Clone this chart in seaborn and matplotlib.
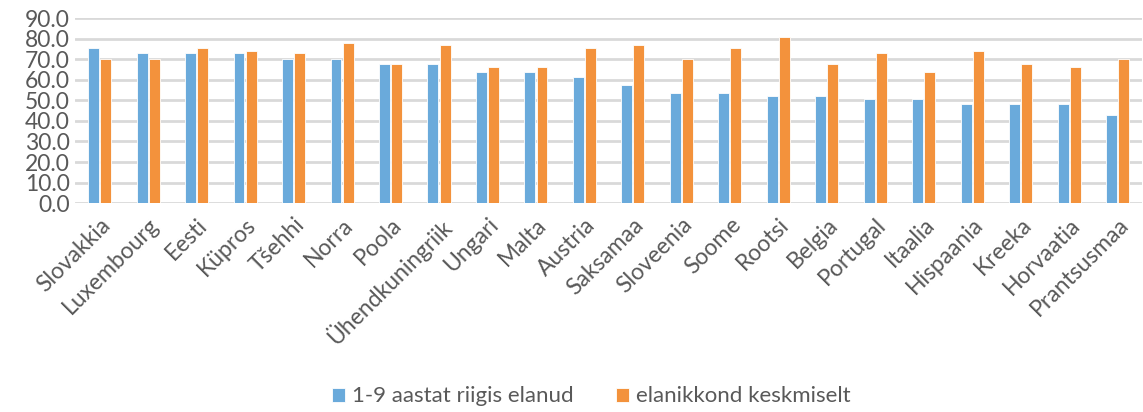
import matplotlib
matplotlib.use("Agg")
import matplotlib.pyplot as plt
import seaborn as sns
import pandas as pd

countries = ["Slovakkia", "Luxembourg", "Eesti", "Küpros", "Tšehhi", "Norra", "Poola",
             "Ühendkuningriik", "Ungari", "Malta", "Austria", "Saksamaa", "Sloveenia",
             "Soome", "Rootsi", "Belgia", "Portugal", "Itaalia", "Hispaania", "Kreeka",
             "Horvaatia", "Prantsusmaa"]
recent_residents = [75.5, 73.0, 73.0, 73.0, 70.3, 70.3, 67.7, 67.7, 63.8, 63.8, 61.2, 57.3,
                    53.4, 53.4, 52.1, 52.1, 50.8, 50.8, 48.2, 48.2, 48.2, 43.0]
population_avg = [70.3, 70.3, 75.5, 74.2, 73.0, 78.1, 67.7, 76.8, 66.4, 66.4, 75.5, 76.8,
                  70.3, 75.5, 80.7, 67.7, 72.9, 63.8, 74.2, 67.7, 66.4, 70.3]
series_names = ["1-9 aastat riigis elanud", "elanikkond keskmiselt"]
y_ticks = [0, 10, 20, 30, 40, 50, 60, 70, 80, 90]

df = pd.DataFrame({
    "riik": countries * 2,
    "väärtus": recent_residents + population_avg,
    "rühm": [series_names[0]] * len(countries) + [series_names[1]] * len(countries),
})

sns.set_theme(style="white")
plt.rcParams["font.family"] = ["Lato", "DejaVu Sans"]
text_color = "#595959"

fig = plt.figure(figsize=(11.43, 4.12), dpi=100)
ax = fig.add_axes([0.066, 0.507, 0.933, 0.449])

sns.barplot(data=df, x="riik", y="väärtus", hue="rühm",
            palette=["#6aaadb", "#f3923c"], saturation=1, width=0.5, gap=0.1,
            edgecolor="#ffffff", linewidth=0.6, ax=ax, zorder=3)

ax.set_ylim(0, 90)
ax.set_yticks(y_ticks)
ax.set_yticklabels([f"{v:.1f}" for v in y_ticks], fontsize=16.5, color=text_color)
ax.set_xlim(-0.5, len(countries) - 0.5)
ax.set_xlabel("")
ax.set_ylabel("")
ax.set_xticks(range(len(countries)))
ax.set_xticklabels(countries, rotation=45, ha="right", rotation_mode="anchor",
                   fontsize=16.5, color=text_color)
ax.tick_params(axis="both", length=0, pad=4)
ax.tick_params(axis="x", pad=8)

ax.grid(axis="y", color="#d9d9d9", linewidth=2, zorder=0)
ax.set_axisbelow(True)
for side in ["left", "right", "top", "bottom"]:
    ax.spines[side].set_visible(False)

ax.legend_.remove()
handles, labels = ax.get_legend_handles_labels()
fig.legend(handles, labels, loc="lower center", bbox_to_anchor=(0.517, -0.035), ncol=2,
           frameon=False, fontsize=16, labelcolor=text_color, handlelength=0.6,
           handleheight=0.6, handletextpad=0.3, columnspacing=1.9)

fig.savefig("out.png", dpi=100)
